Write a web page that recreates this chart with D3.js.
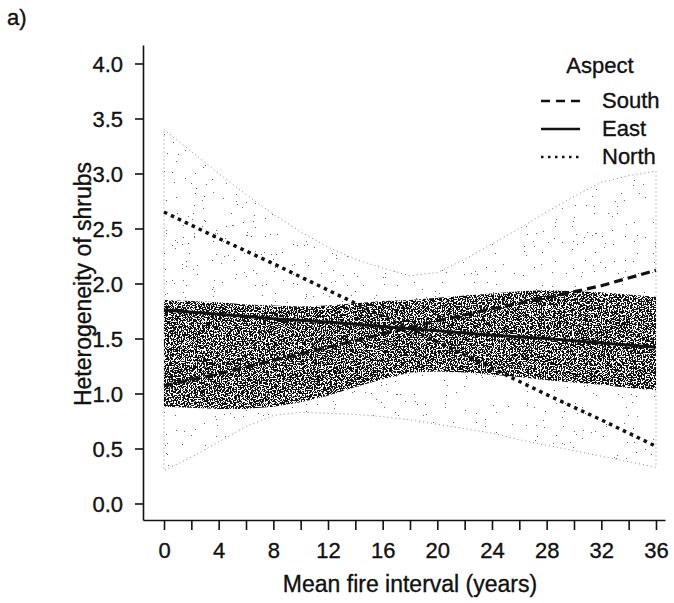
<!DOCTYPE html>
<html>
<head>
<meta charset="utf-8">
<script src="https://cdn.jsdelivr.net/npm/d3@7"></script>
<style>
  body { margin: 0; background: #fff; }
  text { font-family: "Liberation Sans", Arial, sans-serif; fill: #111; stroke: #111; stroke-width: 0.35px; }
</style>
</head>
<body>
<script>
// fitted lines
const lineYears = [0, 4, 8, 12, 16, 20, 24, 28, 32, 36]
const south = [1.07, 1.18, 1.30, 1.42, 1.54, 1.66, 1.77, 1.87, 1.98, 2.12]
const east  = [1.76, 1.72, 1.68, 1.65, 1.61, 1.57, 1.53, 1.50, 1.46, 1.42]
const north = [2.65, 2.41, 2.18, 1.94, 1.70, 1.47, 1.23, 0.99, 0.76, 0.52]

// confidence bands (stippled)
const bandYears  = [0, 2, 4, 6, 8, 10, 12, 14, 16, 18, 20, 22, 24, 26, 28, 30, 32, 34, 36]
const lightUpper = [3.40, 3.20, 3.00, 2.81, 2.63, 2.47, 2.33, 2.22, 2.14, 2.07, 2.10, 2.22, 2.36, 2.50, 2.65, 2.79, 2.92, 2.98, 3.02]
const lightLower = [0.30, 0.42, 0.56, 0.70, 0.80, 0.83, 0.82, 0.81, 0.79, 0.76, 0.72, 0.68, 0.64, 0.58, 0.53, 0.48, 0.43, 0.38, 0.33]
const darkUpper  = [1.85, 1.84, 1.83, 1.81, 1.80, 1.79, 1.80, 1.82, 1.84, 1.85, 1.87, 1.89, 1.91, 1.93, 1.94, 1.93, 1.92, 1.90, 1.88]
const darkLower  = [0.88, 0.87, 0.86, 0.86, 0.88, 0.92, 0.98, 1.06, 1.13, 1.19, 1.20, 1.19, 1.17, 1.15, 1.12, 1.10, 1.08, 1.05, 1.03]

const xTicks = [0, 2, 4, 6, 8, 10, 12, 14, 16, 18, 20, 22, 24, 26, 28, 30, 32, 34, 36]
const yTicks = [0, 0.5, 1, 1.5, 2, 2.5, 3, 3.5, 4]
const aspects = ['South', 'East', 'North']

const width = 674
const height = 603
const plotLeft = 143, plotRight = 665, plotTop = 45, plotBottom = 520

const svg = d3.select('body').append('svg')
              .attr('width', width)
              .attr('height', height)

const xScale = d3.scaleLinear().domain([-1.537, 36.66]).range([plotLeft, plotRight])
const yScale = d3.scaleLinear().domain([-0.15, 4.168]).range([plotBottom, plotTop])

// stipple filters: thresholded noise keeps only part of the pixels
const defs = svg.append('defs')
const stipple = (id, freq, seed, thr) => {
  const f = defs.append('filter').attr('id', id)
                .attr('x', '-5%').attr('y', '-5%').attr('width', '110%').attr('height', '110%')
                .attr('color-interpolation-filters', 'sRGB')
  f.append('feTurbulence').attr('type', 'fractalNoise').attr('baseFrequency', freq)
   .attr('numOctaves', 2).attr('seed', seed).attr('result', 'n')
  f.append('feColorMatrix').attr('in', 'n').attr('type', 'matrix')
   .attr('values', '0 0 0 0 0  0 0 0 0 0  0 0 0 0 0  1 0 0 0 0').attr('result', 'a')
  const table = d3.range(100).map(k => k / 100 >= thr ? 1 : 0).join(' ')
  f.append('feComponentTransfer').attr('in', 'a').attr('result', 't')
   .append('feFuncA').attr('type', 'discrete').attr('tableValues', table)
  f.append('feComposite').attr('in', 'SourceGraphic').attr('in2', 't').attr('operator', 'in')
}
stipple('stipDark', 0.75, 4, 0.48)
stipple('stipLight', 0.9, 9, 0.77)

const band = (upper, lower) => d3.area()
  .x((d, i) => xScale(bandYears[i]))
  .y0((d, i) => yScale(lower[i]))
  .y1((d, i) => yScale(upper[i]))(bandYears)

svg.append('path')
   .attr('d', band(lightUpper, lightLower))
   .attr('fill', '#666')
   .attr('filter', 'url(#stipLight)')
svg.append('path')
   .attr('d', band(lightUpper, lightLower))
   .attr('fill', 'none')
   .attr('stroke', '#888')
   .attr('stroke-width', 1)
   .attr('stroke-dasharray', '1,3')

svg.append('path')
   .attr('d', band(darkUpper, darkLower))
   .attr('fill', '#111')
   .attr('filter', 'url(#stipDark)')

// fitted lines
const line = vals => d3.line()
  .x((d, i) => xScale(lineYears[i]))
  .y((d, i) => yScale(vals[i]))(lineYears)

const styles = {
  South: { dash: '9,5', width: 3.2 },
  East:  { dash: null, width: 3 },
  North: { dash: '3.5,4.2', width: 3.5 }
}
const series = { South: south, East: east, North: north }

aspects.forEach(a => {
  svg.append('path')
     .attr('d', line(series[a]))
     .attr('fill', 'none')
     .attr('stroke', '#111')
     .attr('stroke-width', styles[a].width)
     .attr('stroke-dasharray', styles[a].dash)
})

// axes
const yAxis = d3.axisLeft(yScale)
                .tickValues(yTicks)
                .tickFormat(d3.format('.1f'))
                .tickSize(8)
                .tickSizeOuter(0)
                .tickPadding(12)
const xAxis = d3.axisBottom(xScale)
                .tickValues(xTicks)
                .tickFormat(d => d % 4 === 0 ? d : '')
                .tickSize(10)
                .tickSizeOuter(0)
                .tickPadding(12)

const gy = svg.append('g').attr('transform', `translate(${plotLeft},0)`).call(yAxis)
const gx = svg.append('g').attr('transform', `translate(0,${plotBottom})`).call(xAxis)

;[gy, gx].forEach(g => {
  g.attr('font-family', null).attr('font-size', null)
  g.selectAll('path, line').attr('stroke', '#111').attr('stroke-width', 1.6)
  g.selectAll('text').style('font-size', '22px').attr('fill', '#111')
})
gy.selectAll('text').attr('dy', '0.36em')

// axis titles
svg.append('text')
   .text('Mean fire interval (years)')
   .attr('x', 410)
   .attr('y', 592)
   .attr('text-anchor', 'middle')
   .style('font-size', '23px')

svg.append('text')
   .text('Heterogeneity of shrubs')
   .attr('transform', 'translate(91, 284) rotate(-90)')
   .attr('text-anchor', 'middle')
   .style('font-size', '23px')

svg.append('text')
   .text('a)')
   .attr('x', 7)
   .attr('y', 25)
   .style('font-size', '22px')

// legend
const legend = svg.append('g').attr('transform', 'translate(541, 0)')
legend.append('text')
      .text('Aspect')
      .attr('x', 59)
      .attr('y', 73)
      .attr('text-anchor', 'middle')
      .style('font-size', '22px')

aspects.forEach((a, i) => {
  const yb = 108 + i * 28
  legend.append('line')
        .attr('x1', 0).attr('x2', 39)
        .attr('y1', yb - 7).attr('y2', yb - 7)
        .attr('stroke', '#111')
        .attr('stroke-width', a === 'North' ? 2.5 : 2.4)
        .attr('stroke-dasharray', a === 'South' ? '9,6' : a === 'North' ? '2.5,4.5' : null)
  legend.append('text')
        .text(a)
        .attr('x', 61)
        .attr('y', yb)
        .style('font-size', '22px')
})
</script>
</body>
</html>
